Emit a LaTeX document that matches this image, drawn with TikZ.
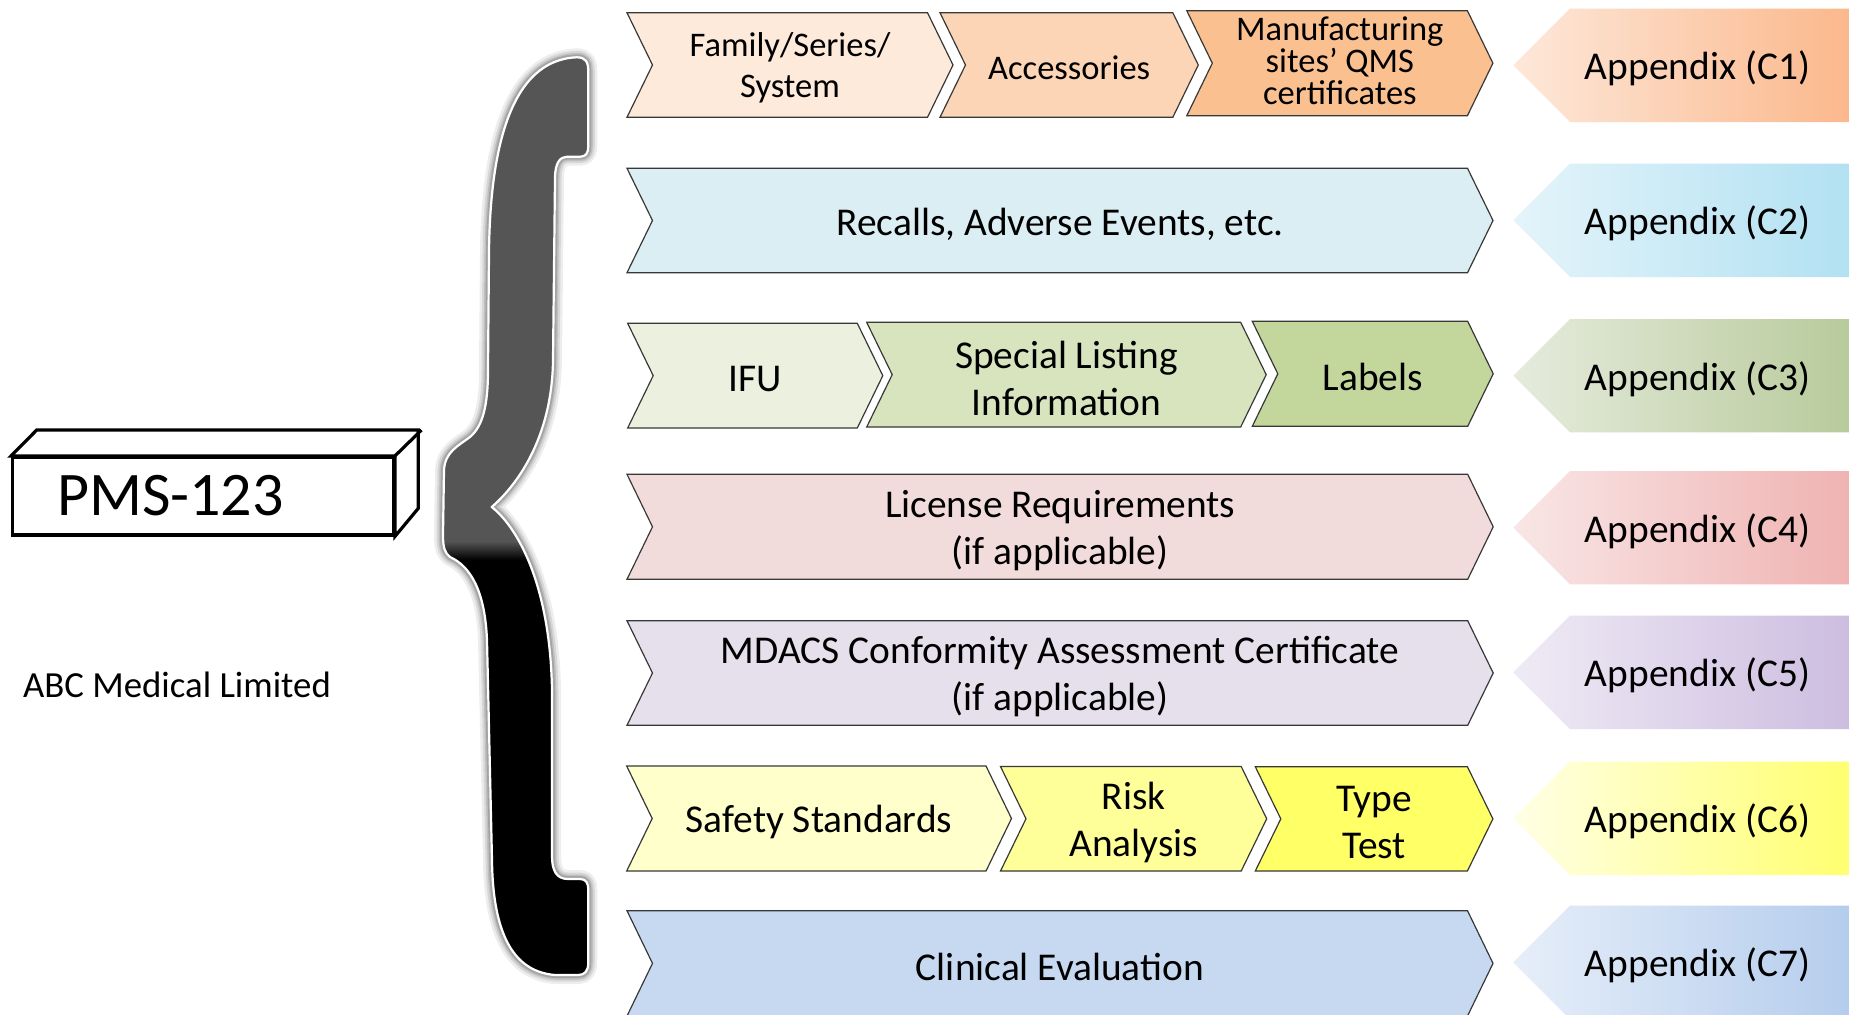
\documentclass[tikz,border=0pt]{standalone}
\usepackage{fontspec}
\setmainfont{Carlito}
\usetikzlibrary{calc}
\definecolor{r1a}{HTML}{FDEADA}
\definecolor{r1b}{HTML}{FBD5B5}
\definecolor{r1c}{HTML}{FAC090}
\definecolor{r2}{HTML}{DAEEF3}
\definecolor{r3a}{HTML}{EBF1DE}
\definecolor{r3b}{HTML}{D7E4BD}
\definecolor{r3c}{HTML}{C3D69B}
\definecolor{r4}{HTML}{F2DCDB}
\definecolor{r5}{HTML}{E5E0EC}
\definecolor{r6a}{HTML}{FFFFCC}
\definecolor{r6b}{HTML}{FFFF99}
\definecolor{r6c}{HTML}{FFFF66}
\definecolor{r7}{HTML}{C6D9F1}
\definecolor{a1l}{HTML}{FDE8DA}\definecolor{a1r}{HTML}{FBB88C}
\definecolor{a2l}{HTML}{E4F4FA}\definecolor{a2r}{HTML}{B2E1F2}
\definecolor{a3l}{HTML}{E6EBDD}\definecolor{a3r}{HTML}{B8CB9C}
\definecolor{a4l}{HTML}{F9E6E6}\definecolor{a4r}{HTML}{EFB3B2}
\definecolor{a5l}{HTML}{EFEBF5}\definecolor{a5r}{HTML}{CDBDE0}
\definecolor{a6l}{HTML}{FFFFE6}\definecolor{a6r}{HTML}{FFFF70}
\definecolor{a7l}{HTML}{E6EEF9}\definecolor{a7r}{HTML}{B5CDED}
\definecolor{bracegray}{RGB}{85,85,85}
\newcommand\pmschev[6]{%
  \draw[chevline, fill=#6] (#2,#4) -- (#3,#4) -- ({#3+25.5},{(#4+#5)/2}) -- (#3,#5) -- (#2,#5) -- ({#2+25.5},{(#4+#5)/2}) -- cycle;
  \coordinate (#1) at ({(#2+25.5+#3)/2},{(#4+#5)/2});
}
\newcommand\pmsapp[5]{%
  \shade[left color=#3, right color=#4] (1513.3,#2) -- (1570,{#2-56.7}) -- (1849,{#2-56.7}) -- (1849,{#2+56.7}) -- (1570,{#2+56.7}) -- cycle;
  \node[apptext] (#1) at (1697.5,#2) {#5};
}
\def\pmsbrace{(576.7,57.3) .. controls (586,57.3) and (588.3,62) .. (588.3,72) -- (588.3,146) .. controls (588.3,153) and (586,156.7) .. (580,156.7) -- (567,156.7) .. controls (560,156.7) and (555,163) .. (555,178) -- (553,360) .. controls (552,440) and (515,487) .. (491.7,507) .. controls (515,525) and (550,580) .. (552,690) -- (552,856) .. controls (552,870) and (556,879) .. (568,879) -- (580,879) .. controls (586,879) and (588.3,883) .. (588.3,890) -- (588.3,962) .. controls (588.3,971) and (585,975) .. (578,975) -- (555,975) .. controls (520,972) and (493,945) .. (492,860) -- (487,640) .. controls (485,590) and (470,566) .. (450,557) .. controls (445,553) and (443,548) .. (443,535) -- (444,470) .. controls (445,452) and (458,446) .. (470,437) .. controls (483,426) and (488,405) .. (488,370) -- (489,253) .. controls (490,150) and (510,60) .. (576.7,57.3) -- cycle}
\begin{document}
\begin{tikzpicture}[x=0.5pt,y=-0.5pt,
  chevline/.style={draw=black!78, line width=0.6pt, line join=miter},
  rowtext/.style={font=\fontsize{19.7}{23.5}\selectfont, align=center, inner sep=0pt, text=black, yshift=-1.7pt},
  smalltext/.style={font=\fontsize{17.25}{20.5}\selectfont, align=center, inner sep=0pt, text=black, yshift=-1.5pt},
  tighttext/.style={font=\fontsize{17.25}{15.9}\selectfont, align=center, inner sep=0pt, text=black, yshift=1.3pt},
  apptext/.style={font=\fontsize{19.7}{23.5}\selectfont, inner sep=0pt, text=black, yshift=-1.7pt}]
\useasboundingbox (0,0) rectangle (1849,1014);
\clip (0,0) rectangle (1849,1014);
\fill[white] (0,0) rectangle (1849,1014);

% left block
\node[draw, line width=1.6pt, fill=white, anchor=north west, minimum width=190.35pt, minimum height=38.65pt, inner sep=0pt] (pmsbox) at (11,456) {};
\draw[line width=1.6pt, line join=miter, fill=white] (pmsbox.north west) -- ++(25.7,-26) -- ++(381.6,0) -- ++(0,78.3) -- (pmsbox.south east) -- (pmsbox.north east) -- cycle;
\draw[line width=1.6pt] (pmsbox.north east) -- ++(26.6,-26);
\node[anchor=base west, inner sep=0pt, font=\fontsize{31}{36}\selectfont] (pmstext) at (56.7,515) {PMS-123};
\node[anchor=base west, inner sep=0pt, font=\fontsize{18.4}{22}\selectfont] (company) at (22.7,697) {ABC Medical Limited};

% brace with glow
\draw[black, opacity=0.07, line width=9pt, line join=round] \pmsbrace;
\draw[black, opacity=0.09, line width=6.5pt, line join=round] \pmsbrace;
\draw[black, opacity=0.11, line width=4.5pt, line join=round] \pmsbrace;
\draw[black, opacity=0.14, line width=3pt, line join=round] \pmsbrace;
\fill[bracegray] \pmsbrace;
\begin{scope}
  \clip \pmsbrace;
  \shade[top color=bracegray, bottom color=black] (430,541) rectangle (600,560);
  \fill[black] (430,559.5) rectangle (600,1000);
\end{scope}
\draw[white, line width=1.1pt, line join=round] \pmsbrace;

% row 1
\pmschev{c11}{627}{927.5}{12.7}{117.3}{r1a}
\pmschev{c12}{940}{1172.8}{12.7}{117.3}{r1b}
\pmschev{c13}{1186.8}{1467.4}{10.7}{115.7}{r1c}
\node[smalltext] (t11) at (c11) {Family/Series/\\System};
\node[smalltext] (t12) at (c12) {Accessories};
\node[tighttext] (t13) at (c13) {Manufacturing\\sites’ QMS\\certificates};
% row 2
\pmschev{c21}{627}{1467.5}{168.3}{272.7}{r2}
\node[rowtext] (t21) at (c21) {Recalls, Adverse Events, etc.};
% row 3
\pmschev{c31}{627.7}{857.3}{323.3}{428}{r3a}
\pmschev{c32}{866.7}{1240.7}{322.3}{427}{r3b}
\pmschev{c33}{1252.3}{1467.7}{321.3}{426.3}{r3c}
\node[rowtext] (t31) at (c31) {IFU};
\node[rowtext] (t32) at (c32) {Special Listing\\Information};
\node[rowtext] (t33) at (c33) {Labels};
% row 4
\pmschev{c41}{627}{1467.7}{474.3}{579.3}{r4}
\node[rowtext] (t41) at (c41) {License Requirements\\(if applicable)};
% row 5
\pmschev{c51}{627}{1467.7}{620.7}{725.3}{r5}
\node[rowtext] (t51) at (c51) {MDACS Conformity Assessment Certificate\\(if applicable)};
% row 6
\pmschev{c61}{626.7}{986}{766}{871}{r6a}
\pmschev{c62}{1000.5}{1241.2}{766.5}{871}{r6b}
\pmschev{c63}{1255.3}{1467.4}{766.7}{871}{r6c}
\node[rowtext] (t61) at (c61) {Safety Standards};
\node[rowtext] (t62) at (c62) {Risk\\Analysis};
\node[rowtext] (t63) at (c63) {Type\\Test};
% row 7
\pmschev{c71}{627}{1467.5}{910.7}{1016}{r7}
\node[rowtext] (t71) at (c71) {Clinical Evaluation};

% appendices
\pmsapp{app1}{65.3}{a1l}{a1r}{Appendix (C1)}
\pmsapp{app2}{220.3}{a2l}{a2r}{Appendix (C2)}
\pmsapp{app3}{375.7}{a3l}{a3r}{Appendix (C3)}
\pmsapp{app4}{527.7}{a4l}{a4r}{Appendix (C4)}
\pmsapp{app5}{672.3}{a5l}{a5r}{Appendix (C5)}
\pmsapp{app6}{818.3}{a6l}{a6r}{Appendix (C6)}
\pmsapp{app7}{962.3}{a7l}{a7r}{Appendix (C7)}
\end{tikzpicture}
\end{document}
